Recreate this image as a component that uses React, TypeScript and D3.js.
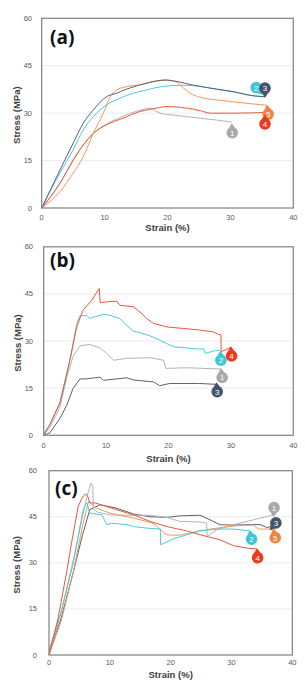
import React from "react";
import * as d3 from "d3";

type P = [number, number];

// ---- Panel (a) ----
const a1: P[] = [[0,0],[2,5.2],[4,11.5],[6,18.2],[8,23.2],[10,26.2],[12,28.2],[14,29.9],[16,31.1],[17.3,31.6],[18.3,30.5],[19,29.9],[20.9,29.4],[23.1,28.9],[25.2,28.4],[27.8,27.8],[30.2,27.2]];
const a2: P[] = [[0,0],[2.9,11.1],[5,18.4],[6.6,24.7],[8.2,28.9],[10.3,32.6],[12.4,34.7],[14.5,36.3],[16.2,37.1],[18,38],[19.9,38.6],[22.5,38.8],[24,38.7],[27.8,37.6],[30.4,36.8],[33.6,35.5],[35.4,35.2]];
const a3: P[] = [[0,0],[2.9,12],[5,20.5],[6.6,26.8],[8.2,31],[10.3,35.2],[11.9,36.3],[13.5,37.6],[15.6,38.9],[18.3,40.2],[19.6,40.5],[21.5,40],[24,38.9],[27.8,37.6],[30.4,36.8],[33.6,35.5],[35.5,35.2]];
const a4: P[] = [[0,0],[2.9,7.8],[5,15.2],[6.6,19.9],[8.2,23.6],[10.3,26.3],[12.9,28.4],[15.6,30.5],[18.3,31.6],[19.9,32.1],[23,31.6],[25.2,30.8],[26.8,30],[30.4,30],[35.5,30.2]];
const a5: P[] = [[0,0],[2.9,5.2],[5,11],[6.6,16.2],[8.2,23.6],[9.8,30],[10.9,35.2],[11.9,37.3],[13.5,38.4],[15.6,39],[18.3,40.2],[19.9,40.4],[21.5,39.8],[22,38.9],[23.6,36.3],[25.2,35],[27.8,34.2],[30.4,33.6],[33.6,32.9],[35.8,32.5]];

// ---- Panel (b) ----
const b1: P[] = [[0,0],[1,2.5],[2.6,9],[3.7,18.5],[4.7,25],[5.8,28.5],[7.4,28.9],[9,27.8],[10.1,26.1],[11.2,23.9],[13.3,24.5],[17,24.7],[19.2,23.9],[19.6,21.3],[22.9,21.5],[28.4,21.1]];
const b2: P[] = [[0,0.5],[1,3.5],[2.6,10.5],[4.2,24],[5.3,35.5],[5.8,38],[6.9,38.2],[7.4,37.2],[8.3,37.8],[9.6,38.5],[10.6,38.2],[12.2,37.2],[13.3,35],[14.4,33.1],[15.4,32.7],[17,31.7],[18.6,30.3],[19.7,29.2],[20.8,28.2],[22.9,27.8],[25,27.4],[25.6,27.6],[25.9,26.1],[27.2,26.8],[28.3,27.1]];
const b3: P[] = [[0,0],[1,0.8],[2.6,5.4],[3.7,9.6],[4.7,14.9],[5.8,17.9],[6.9,18],[9,18.5],[9.6,17.5],[13.3,18.3],[14.4,17.6],[17.6,17],[18.6,15.8],[20.2,16.5],[25,16.5],[27.7,16.2]];
const b4: P[] = [[0,0],[1,3.5],[2.6,10.2],[4.2,23.9],[5.3,34.5],[6.3,39.8],[7.7,43],[8.9,46.7],[9.05,42.2],[10.1,42.5],[11.7,42.7],[12.2,41.4],[14.4,40.9],[15.4,39.3],[16.5,37.2],[17.6,35.6],[18.6,35.1],[19.7,34.5],[22.4,34],[25,33.5],[27.2,32.9],[28,32.1],[28.4,32],[28.45,26.6],[30,28]];

// ---- Panel (c) ----
const c1: P[] = [[0,0],[2,14],[4,31],[5.5,45],[6.3,52],[6.9,56],[7.2,55],[7.3,47.5],[8,46.5],[10,45.6],[13.9,45.5],[16.6,45.5],[19.4,44.8],[21.5,43.5],[24.8,43.3],[25.9,43],[26,38.6],[27.6,40.8],[30.3,42.4],[33.6,44],[36.9,45.6]];
const c2: P[] = [[0,1.5],[2,14],[4,30],[5.3,44],[5.6,47.3],[6.2,49.5],[6.7,46.2],[8.7,45.6],[9.5,42.4],[10.3,42.9],[13,42.4],[13.9,41.8],[16.1,41.3],[18.3,41],[18.35,35.9],[20.4,37.8],[22.6,39.1],[24.8,40.4],[27.6,41],[30.3,41],[33,40.4]];
const c3: P[] = [[0,0.5],[2,12],[4,27],[5.5,39],[6.7,47.3],[8.4,48.9],[11.1,47.8],[13.9,45.9],[16.6,45],[19.4,44.8],[21.5,45.3],[24.8,45.5],[26.5,44],[28.1,42.4],[30.3,42.3],[34.7,42.5],[35.8,41.5],[36.9,42]];
const c4: P[] = [[0,0],[1.5,12],[2.9,27],[3.7,36.4],[4.8,48.4],[5.4,51],[6,52.5],[6.4,51.5],[6.7,49.5],[7.6,49.5],[10,48],[13.9,45.6],[16.6,43.5],[19.4,41.8],[22.6,40.4],[25.9,38.6],[28.1,37.5],[30.3,35.6],[32.5,34.8],[34.2,34.5]];
const c5: P[] = [[0,0],[2,11],[4,27],[5.5,42],[6.5,50],[7.5,48],[10,46.2],[13.9,44.6],[17.1,42.9],[19.4,39.1],[21.5,39],[24.8,40.4],[27.6,41.3],[31.4,42.2],[33.6,42.3],[34.4,41],[36.9,41]];

// marker label anchors (data coords)
const aLabels: [string, number, number][] = [["1",30.3,23.8],["2",34.1,38.1],["3",35.5,37.9],["5",36.0,29.7],["4",35.5,26.6]];
const bLabels: [string, number, number][] = [["2",28.4,23.9],["4",30.1,25.3],["1",28.6,18.4],["3",27.8,13.9]];
const cLabels: [string, number, number][] = [["1",37,48],["3",37.3,43],["2",33.3,37.7],["5",37.2,38.2],["4",34.3,31.7]];

const xTicks = [0, 10, 20, 30, 40];
const yTicks = [0, 15, 30, 45, 60];

const COLORS: Record<string, string> = {
  "1": "#a9a9a9",
  "2": "#3ec6d6",
  "3": "#44546a",
  "4": "#ec3a1e",
  "5": "#ee8640",
};
const LINE_COLORS: Record<string, string> = {
  "1": "#b4b4b4",
  "2": "#4ccbd9",
  "3": "#5a6272",
  "4": "#e9573f",
  "5": "#f0975e",
};

type Panel = {
  tag: string;
  left: number; right: number; top: number; bottom: number;
  tickY: number; titleY: number; yLabelRight: number; yTitleX: number;
  tagX: number; tagY: number;
  series: [string, P[]][];
  labels: [string, number, number][];
  smooth: boolean;
};

const panels: Panel[] = [
  { tag: "(a)", left: 41.7, right: 293.3, top: 18.3, bottom: 208, tickY: 220, titleY: 231, yLabelRight: 32, yTitleX: 20, tagX: 50, tagY: 43.5,
    series: [["1", a1], ["4", a4], ["5", a5], ["2", a2], ["3", a3]], labels: aLabels, smooth: true },
  { tag: "(b)", left: 43.7, right: 293.3, top: 246.8, bottom: 435.3, tickY: 448, titleY: 462, yLabelRight: 33, yTitleX: 21, tagX: 50, tagY: 267,
    series: [["3", b3], ["1", b1], ["2", b2], ["4", b4]], labels: bLabels, smooth: false },
  { tag: "(c)", left: 49, right: 292.3, top: 470.7, bottom: 655, tickY: 665, titleY: 678, yLabelRight: 37, yTitleX: 20, tagX: 55, tagY: 494.5,
    series: [["3", c3], ["1", c1], ["5", c5], ["2", c2], ["4", c4]], labels: cLabels, smooth: false },
];

function Pin({ cx, cy, tx, ty, id }: { cx: number; cy: number; tx: number; ty: number; id: string }) {
  const r = 5.8;
  const ang = Math.atan2(ty - cy, tx - cx);
  const tipLen = 9.5;
  const spread = 0.55;
  const p1 = [cx + r * Math.cos(ang - spread), cy + r * Math.sin(ang - spread)];
  const p2 = [cx + r * Math.cos(ang + spread), cy + r * Math.sin(ang + spread)];
  const tip = [cx + tipLen * Math.cos(ang), cy + tipLen * Math.sin(ang)];
  return (
    <g>
      <path d={`M${p1[0]},${p1[1]}L${tip[0]},${tip[1]}L${p2[0]},${p2[1]}Z`} fill={COLORS[id]} />
      <circle cx={cx} cy={cy} r={r} fill={COLORS[id]} />
      <text x={cx} y={cy + 3} textAnchor="middle" fontSize={8} fill="#ffffff" fontFamily="Liberation Sans, Arial, sans-serif">{id}</text>
    </g>
  );
}

function PanelView({ p }: { p: Panel }) {
  const x = d3.scaleLinear().domain([0, 40]).range([p.left, p.right]);
  const y = d3.scaleLinear().domain([0, 60]).range([p.bottom, p.top]);
  const line = d3.line<P>().x(d => x(d[0])).y(d => y(d[1])).curve(p.smooth ? d3.curveMonotoneX : d3.curveLinear);
  const font = "Liberation Sans, Arial, sans-serif";
  return (
    <g>
      {yTicks.filter(t => t > 0 && t < 60).map(t => (
        <line key={t} x1={p.left} x2={p.right} y1={y(t)} y2={y(t)} stroke="#ececec" strokeWidth={1} />
      ))}
      {p.series.map(([id, data]) => (
        <path key={id} d={line(data) || ""} fill="none" stroke={LINE_COLORS[id]} strokeWidth={1} strokeLinejoin="round" />
      ))}
      <rect x={p.left} y={p.top} width={p.right - p.left} height={p.bottom - p.top} fill="none" stroke="#8a8a8a" strokeWidth={1.3} />
      {yTicks.map(t => (
        <text key={t} x={p.yLabelRight} y={y(t) + 2.5} textAnchor="end" fontSize={7.5} fill="#595959" fontFamily={font}>{t}</text>
      ))}
      {xTicks.map(t => (
        <text key={t} x={x(t)} y={p.tickY} textAnchor="middle" fontSize={7.5} fill="#595959" fontFamily={font}>{t}</text>
      ))}
      <text x={(p.left + p.right) / 2} y={p.titleY} textAnchor="middle" fontSize={9.5} fontWeight="bold" fill="#404040" fontFamily={font}>Strain (%)</text>
      <text transform={`translate(${p.yTitleX},${(p.top + p.bottom) / 2 + 2}) rotate(-90)`} textAnchor="middle" fontSize={9.5} fontWeight="bold" fill="#404040" fontFamily={font}>Stress (MPa)</text>
      <text x={p.tagX} y={p.tagY} fontSize={19} fontWeight="bold" fill="#111111" fontFamily="Open Sans, Liberation Sans, sans-serif">{p.tag}</text>
      {p.labels.map(([id, lx, ly]) => {
        const s = p.series.find(d => d[0] === id)!;
        const end = s[1][s[1].length - 1];
        return <Pin key={id} id={id} cx={x(lx)} cy={y(ly)} tx={x(end[0])} ty={y(end[1])} />;
      })}
    </g>
  );
}

export default function App() {
  return (
    <svg width={305} height={685} style={{ position: "absolute", left: 0, top: 0, background: "#ffffff" }}>
      <rect x={0} y={0} width={305} height={685} fill="#ffffff" />
      {panels.map(p => <PanelView key={p.tag} p={p} />)}
    </svg>
  );
}
